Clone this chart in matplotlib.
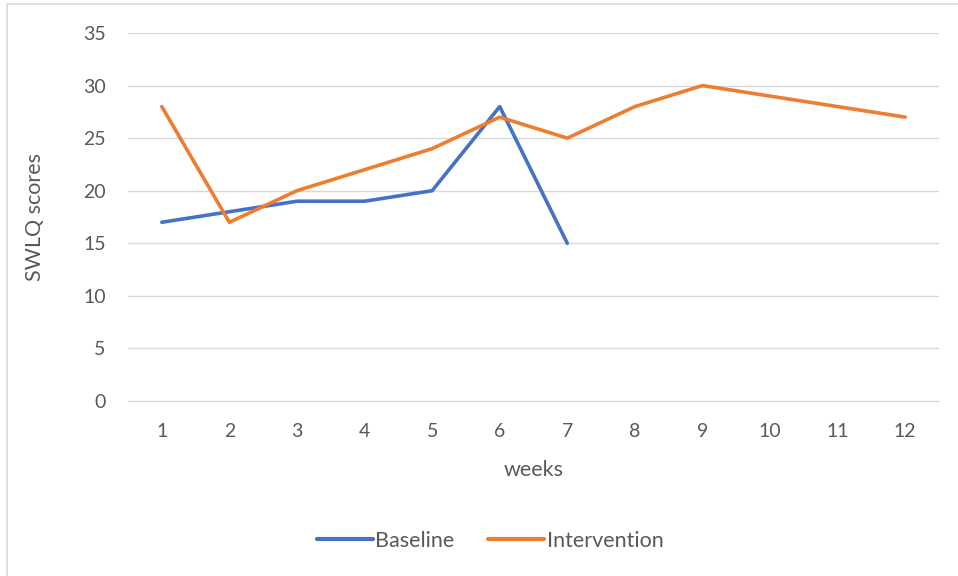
import matplotlib.pyplot as plt
from matplotlib.patches import Rectangle

# ── Data ──────────────────────────────────────────────────────────────────────
weeks = [str(w) for w in range(1, 13)]
baseline = [17, 18, 19, 19, 20, 28, 15]
intervention = [28, 17, 20, 22, 24, 27, 25, 28, 30, 29, 28, 27]
y_ticks = [0, 5, 10, 15, 20, 25, 30, 35]

BLUE = "#4472C4"
ORANGE = "#ED7D31"
TEXT = "#595959"
GRID = "#D9D9D9"

plt.rcParams["font.family"] = ["Lato", "DejaVu Sans"]

fig = plt.figure(figsize=(9.58, 5.76), dpi=100)
ax = fig.add_axes([128 / 958, 1 - 401 / 576, (939 - 128) / 958, (401 - 33) / 576])

x_all = list(range(len(weeks)))
ax.plot(x_all[:len(baseline)], baseline, color=BLUE, lw=2.6,
        solid_capstyle="round", solid_joinstyle="round", label="Baseline")
ax.plot(x_all, intervention, color=ORANGE, lw=2.6,
        solid_capstyle="round", solid_joinstyle="round", label="Intervention")

ax.set_xlim(-0.5, len(weeks) - 0.5)
ax.set_ylim(0, 35)
ax.set_xticks(x_all)
ax.set_xticklabels(weeks)
ax.set_yticks(y_ticks)
ax.yaxis.grid(True, color=GRID, lw=1)
ax.set_axisbelow(True)
for s in ax.spines.values():
    s.set_visible(False)
ax.spines["bottom"].set_visible(True)
ax.spines["bottom"].set_color(GRID)
ax.tick_params(axis="both", length=0, labelsize=14, colors=TEXT)
ax.tick_params(axis="y", pad=16)
ax.tick_params(axis="x", pad=16)

ax.set_xlabel("weeks", fontsize=15.5, color=TEXT, labelpad=14)
fig.text(35 / 958, 1 - 217 / 576, "SWLQ scores", rotation=90, fontsize=15.5,
         color=TEXT, ha="center", va="center")

leg = fig.legend(loc="center", bbox_to_anchor=(490 / 958, 1 - 541 / 576), ncol=2,
                 frameon=False, fontsize=15.5, handlelength=2.6, handletextpad=0.1,
                 columnspacing=1.6)
for t in leg.get_texts():
    t.set_color(TEXT)
for h in leg.get_lines():
    h.set_linewidth(3)
    h.set_solid_capstyle("round")

# chart frame (extends past the right and bottom edge of the image)
fig.patches.append(Rectangle((7 / 958, -0.1), 1.2, 1 - 4 / 576 + 0.1,
                             transform=fig.transFigure, fill=False,
                             edgecolor=GRID, lw=1.2))

fig.savefig("out.png", dpi=100)
